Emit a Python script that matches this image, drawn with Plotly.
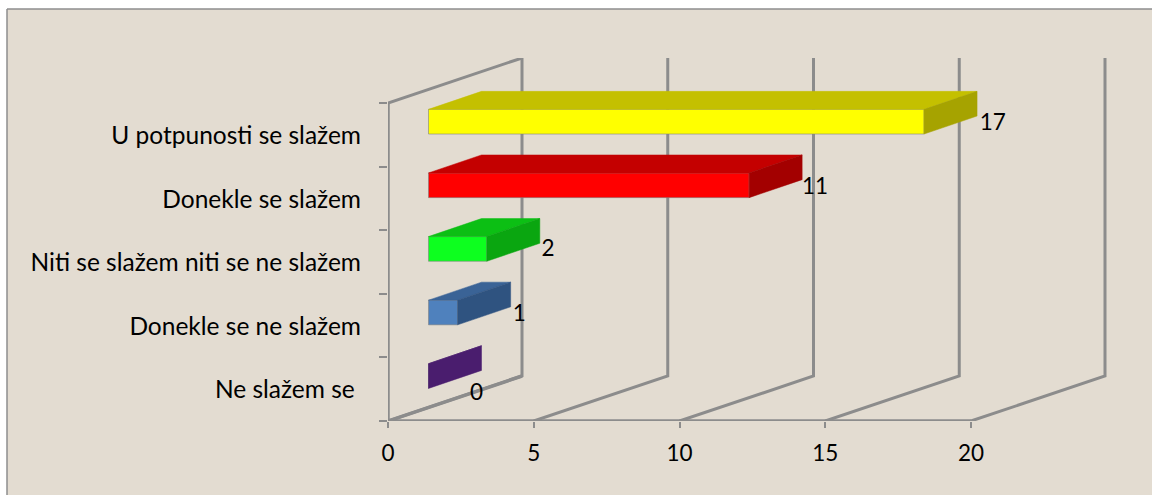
import plotly.graph_objects as go

categories = ["Ne slažem se ", "Donekle se ne slažem", "Niti se slažem niti se ne slažem",
              "Donekle se slažem", "U potpunosti se slažem"]
values = [0, 1, 2, 11, 17]
x_ticks = [0, 5, 10, 15, 20]

face_colors = ["#4A1D6E", "#4F81BD", "#0DFF1F", "#FF0000", "#FFFF00"]
top_colors = ["#4A1D6E", "#3A6396", "#0CBF14", "#C40000", "#C4C000"]
side_colors = ["#4A1D6E", "#2F5380", "#0AA610", "#A30000", "#A6A300"]

W, H = 1152, 495
X0_PX, PX_PER_X = 388, 29.15
BASE_PX, BAND_PX = 421, 63.6
TOP_PX = 58
M_B = H - BASE_PX
xmax = (W - X0_PX) / PX_PER_X
ymin = -0.5
ymax = ymin + (BASE_PX - TOP_PX) / BAND_PX

# pseudo-3D projection expressed in axis units
wall_dx, wall_dy = 134 / PX_PER_X, 45 / BAND_PX
bar_start = 40.5 / PX_PER_X
bar_dx, bar_dy = 53 / PX_PER_X, 18 / BAND_PX
bar_lo, bar_hi = 0.012, 0.40

GRID = "#8C8C8C"
FONT = "Lato"
FS_CAT = 24.5
FS_NUM = 22.5
BG = "#E3DCD1"

fig = go.Figure()


def poly(xs, ys, color):
    fig.add_trace(go.Scatter(x=xs, y=ys, mode="lines", fill="toself", fillcolor=color,
                             line=dict(color=color, width=0.5), hoverinfo="skip", showlegend=False))


n = len(categories)


def wall(xs, ys, w=3):
    d = "M " + " L ".join(f"{x},{y}" for x, y in zip(xs, ys))
    return dict(type="path", path=d, xref="x", yref="y", layer="below",
                line=dict(color=GRID, width=w))


wall_shapes = [
    wall([0, 0, wall_dx], [ymin + n, ymin, ymin + wall_dy], 3.5),
    wall([0, wall_dx], [ymin + n, ymax]),
    wall([x_ticks[0], x_ticks[-1]], [ymin, ymin], 3.5),
]
for t in x_ticks:
    wall_shapes.append(wall([t, t + wall_dx, t + wall_dx], [ymin, ymin + wall_dy, ymax]))

# bars: side and top faces as polygons, front as a real bar
for i, v in enumerate(values):
    x1 = bar_start + v
    poly([bar_start, x1, x1 + bar_dx, bar_start + bar_dx, bar_start],
         [i + bar_hi, i + bar_hi, i + bar_hi + bar_dy, i + bar_hi + bar_dy, i + bar_hi], top_colors[i])
    poly([x1, x1 + bar_dx, x1 + bar_dx, x1, x1],
         [i + bar_lo, i + bar_lo + bar_dy, i + bar_hi + bar_dy, i + bar_hi, i + bar_lo], side_colors[i])

fig.add_trace(go.Bar(
    y=[i + (bar_lo + bar_hi) / 2 for i in range(n)], x=values, base=bar_start, orientation="h",
    width=bar_hi - bar_lo, marker=dict(color=face_colors, line=dict(color="rgba(130,130,130,0.6)", width=1)),
    hoverinfo="skip", showlegend=False))

# value labels
label_nudge_x = [-0.17, 0.30, 0.28, 0.44, 0.54]
label_nudge_y = [-0.08, 0.155, 0.18, 0.15, 0.17]
fig.add_trace(go.Scatter(
    x=[bar_start + v + bar_dx + d for v, d in zip(values, label_nudge_x)],
    y=[i + d for i, d in enumerate(label_nudge_y)],
    text=[str(v) for v in values], mode="text", textposition="middle center",
    textfont=dict(family=FONT, size=FS_NUM, color="#000000"), hoverinfo="skip", showlegend=False))

px_w = W - X0_PX


def paper_x(px):
    return (px - X0_PX) / px_w


def paper_y(px):
    return (BASE_PX - px) / (BASE_PX - TOP_PX)


fig.update_layout(
    width=W, height=H, autosize=False, paper_bgcolor=BG, plot_bgcolor="rgba(0,0,0,0)",
    margin=dict(l=X0_PX, r=0, t=TOP_PX, b=M_B, pad=0), barmode="overlay", showlegend=False,
    font=dict(family=FONT, size=FS_NUM, color="#000000"),
    xaxis=dict(range=[0, xmax], tickmode="array", tickvals=x_ticks, ticktext=[str(t) for t in x_ticks],
               showgrid=False, zeroline=False, showline=False, ticks="outside", ticklen=6,
               tickwidth=1.5, tickcolor=GRID, ticklabelstandoff=6,
               tickfont=dict(family=FONT, size=FS_NUM)),
    yaxis=dict(range=[ymin, ymax], tickmode="array", tickvals=[i - 0.01 for i in range(n)], ticktext=categories,
               showgrid=False, zeroline=False, showline=False, ticks="", ticklabelstandoff=26,
               tickfont=dict(family=FONT, size=FS_CAT),
               minor=dict(tickmode="array", tickvals=[ymin + k for k in range(n + 1)], ticks="outside",
                          ticklen=8, tickwidth=1.5, tickcolor=GRID, showgrid=False)),
    shapes=wall_shapes + [
        dict(type="rect", xref="paper", yref="paper", layer="below",
             x0=paper_x(0), x1=paper_x(W), y0=paper_y(0), y1=paper_y(9),
             fillcolor="#FFFFFF", line_width=0),
        dict(type="rect", xref="paper", yref="paper", layer="below",
             x0=paper_x(0), x1=paper_x(7), y0=paper_y(0), y1=paper_y(H),
             fillcolor="#FFFFFF", line_width=0),
        dict(type="line", xref="paper", yref="paper", layer="below",
             x0=paper_x(7), x1=paper_x(W), y0=paper_y(9), y1=paper_y(9),
             line=dict(color="#8E8E8E", width=1.5)),
        dict(type="line", xref="paper", yref="paper", layer="below",
             x0=paper_x(7), x1=paper_x(7), y0=paper_y(9), y1=paper_y(H),
             line=dict(color="#8E8E8E", width=1.5)),
    ],
)

fig.write_html("out.html", config=dict(displayModeBar=False),
               post_script="document.body.style.margin='0';document.body.style.overflow='hidden';")
